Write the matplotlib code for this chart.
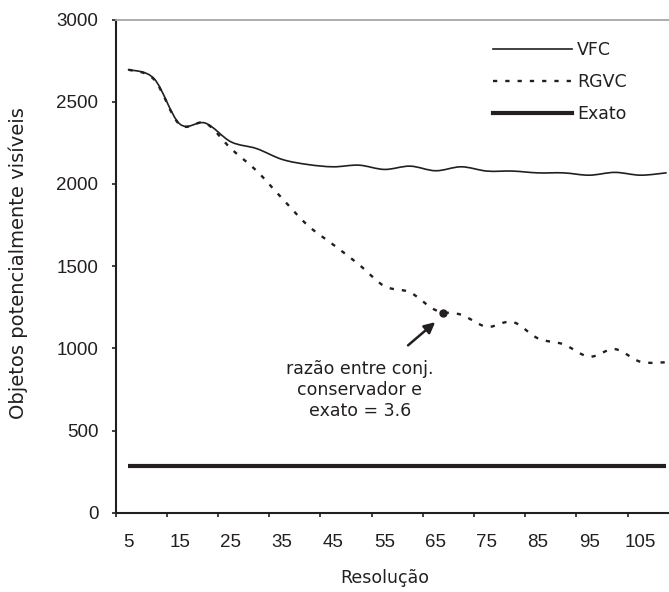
import numpy as np
import matplotlib
matplotlib.use('Agg')
import matplotlib.pyplot as plt
from matplotlib.path import Path
from matplotlib.patches import PathPatch
from matplotlib.lines import Line2D

plt.rcParams['font.family'] = ['Liberation Sans', 'DejaVu Sans']
WIDE = ['DejaVu Sans']

# data (category axis, one point every 5 units)
resolucao = [5, 10, 15, 20, 25, 30, 35, 40, 45, 50, 55,
             60, 65, 70, 75, 80, 85, 90, 95, 100, 105, 110]
vfc = [2695, 2640, 2365, 2370, 2256, 2215, 2149, 2118, 2104, 2114, 2088,
       2108, 2080, 2104, 2078, 2078, 2067, 2067, 2053, 2070, 2053, 2067]
rgvc = [2695, 2635, 2360, 2370, 2215, 2080, 1912, 1748, 1630, 1510, 1378,
        1340, 1232, 1204, 1131, 1161, 1060, 1024, 949, 995, 918, 915]
exato = [285] * len(resolucao)

tick_labels = ['5', '15', '25', '35', '45', '55', '65', '75', '85', '95', '105']

# annotation
nota = 'razão entre conj.\nconservador e\nexato = 3.6'
nota_ponto = (66.4, 1214)

INK = '#231f20'


def smooth_path(xs, ys):
    """
    excel-like smoothed line drawn as cubic bezier segments.
    """
    pts = np.column_stack([xs, ys]).astype(float)
    n = len(pts)
    verts = [pts[0]]
    codes = [Path.MOVETO]
    for i in range(n - 1):
        p0 = pts[i - 1] if i > 0 else pts[i]
        p1 = pts[i]
        p2 = pts[i + 1]
        p3 = pts[i + 2] if i + 2 < n else pts[i + 1]
        verts += [p1 + (p2 - p0) / 6., p2 - (p3 - p1) / 6., p2]
        codes += [Path.CURVE4] * 3
    return Path(verts, codes)


fig = plt.figure(figsize=[6.69, 5.92], dpi=100)
ax = fig.add_axes([0.17294, 0.13395, 0.84185, 0.83311])

ax.add_patch(PathPatch(smooth_path(resolucao, vfc), fill=False,
                       lw=1.2, color=INK, capstyle='round'))
ax.add_patch(PathPatch(smooth_path(resolucao, rgvc), fill=False,
                       lw=1.7, color=INK, linestyle=(0, (1.8, 3.4))))
ax.plot(resolucao, exato, '-', lw=3.0, color=INK, solid_capstyle='butt')

# annotation marker, arrow and text
ax.plot(*nota_ponto, 'o', ms=5, color=INK)
ax.annotate('', xy=(64.9, 1159), xytext=(59.6, 1018),
            arrowprops=dict(arrowstyle='-|>', lw=1.8, color=INK,
                            mutation_scale=16, shrinkA=0, shrinkB=0))
ax.text(50.2, 745, nota, ha='center', va='center', multialignment='center',
        fontsize=12.5, family=WIDE, color=INK, linespacing=1.2)

ax.set_xlim(2.5, 112.5)
ax.set_ylim(0, 3000)

# tick marks between categories, labels on categories
ax.set_xticks(np.arange(2.5, 113, 10))
ax.set_xticklabels([])
ax.set_xticks(np.arange(5, 106, 10), minor=True)
ax.set_xticklabels(tick_labels, minor=True)
ax.tick_params(axis='x', which='major', direction='out', length=3.2,
               width=1.2, color=INK)
ax.tick_params(axis='x', which='minor', length=0, pad=15,
               labelsize=13.5, labelcolor=INK)
ax.set_yticks(np.arange(0, 3001, 500))
ax.tick_params(axis='y', direction='out', length=3.0, width=1.2,
               color=INK, pad=9.5, labelsize=13.5, labelcolor=INK)

for side in ['left', 'bottom']:
    ax.spines[side].set_linewidth(1.5)
    ax.spines[side].set_color(INK)
ax.spines['top'].set_color('#a6a6a6')
ax.spines['top'].set_linewidth(1.3)
ax.spines['right'].set_visible(False)

handles = [Line2D([], [], color=INK, lw=1.2),
           Line2D([], [], color=INK, lw=1.7, linestyle=(0, (1.8, 3.4))),
           Line2D([], [], color=INK, lw=3.0)]
ax.legend(handles, ['VFC', 'RGVC', 'Exato'], loc='upper left',
          bbox_to_anchor=(492.7 / 669, 1 - 41 / 592),
          bbox_transform=fig.transFigure, frameon=False, borderpad=0,
          borderaxespad=0, handlelength=4.55, handletextpad=0.3,
          labelspacing=0.8, prop={'family': WIDE, 'size': 12.5},
          labelcolor=INK)

fig.text(18 / 669, 1 - 263 / 592, 'Objetos potencialmente visíveis',
         rotation=90, ha='center', va='center', fontsize=14, family=WIDE,
         color=INK)
fig.text(385 / 669, 1 - 578 / 592, 'Resolução', ha='center', va='center',
         fontsize=12.5, family=WIDE, color=INK)

plt.savefig('out.png', dpi=100)
plt.close()
